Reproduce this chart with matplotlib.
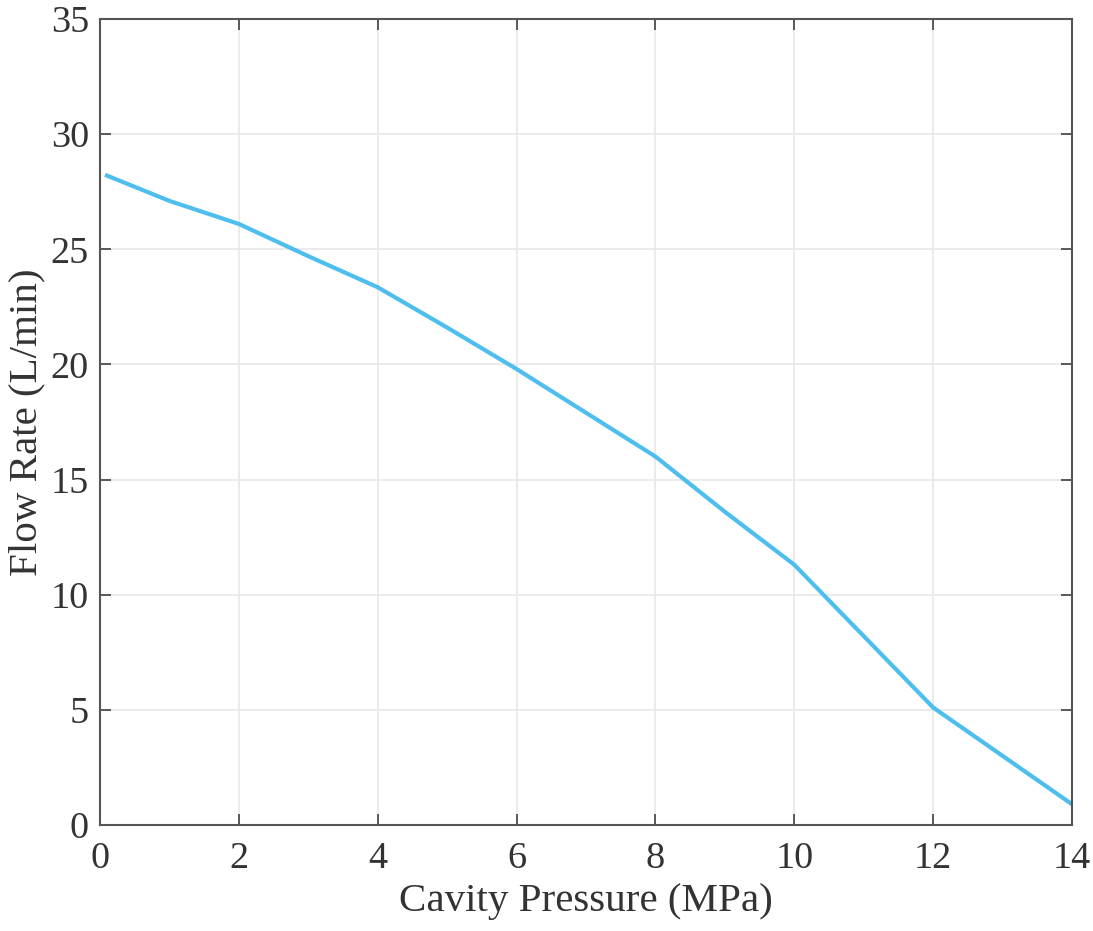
import numpy as np
import matplotlib.pyplot as plt

# values
pressure = [0.1, 1, 2, 3, 4, 5, 6, 7, 8, 9, 10, 11, 12, 13, 14]
flow = [28.2, 27.1, 26.1, 24.7, 23.35, 21.6, 19.8, 17.9, 16.0, 13.6, 11.3, 8.2, 5.1, 3.0, 0.9]
x_ticks = [0, 2, 4, 6, 8, 10, 12, 14]
y_ticks = [0, 5, 10, 15, 20, 25, 30, 35]

plt.rcParams['font.family'] = ['Liberation Serif', 'DejaVu Serif']

fig = plt.figure(figsize=(10.93, 9.31), dpi=100)
ax = fig.add_axes([0.0915, 0.1139, 0.8893, 0.8657])

ax.plot(pressure, flow, color='#4DBEEE', linewidth=3)

ax.set_xlim(0, 14)
ax.set_ylim(0, 35)
ax.set_xticks(x_ticks)
ax.set_yticks(y_ticks)
ax.grid(True, color='#e8e8e8', linewidth=1.2)
ax.set_axisbelow(True)

ax.tick_params(direction='in', length=8, width=1.2, colors='#404040',
               labelcolor='#333333', labelsize=27.5,
               top=True, right=True)
ax.tick_params(axis='x', pad=12)
ax.tick_params(axis='y', pad=8)
for s in ax.spines.values():
    s.set_color('#555555')
    s.set_linewidth(1.5)

ax.set_xlabel('Cavity Pressure (MPa)', fontsize=29.5, color='#333333', labelpad=5)
ax.set_ylabel('Flow Rate (L/min)', fontsize=29.5, color='#333333', labelpad=4)

fig.savefig('out.png', dpi=100)
